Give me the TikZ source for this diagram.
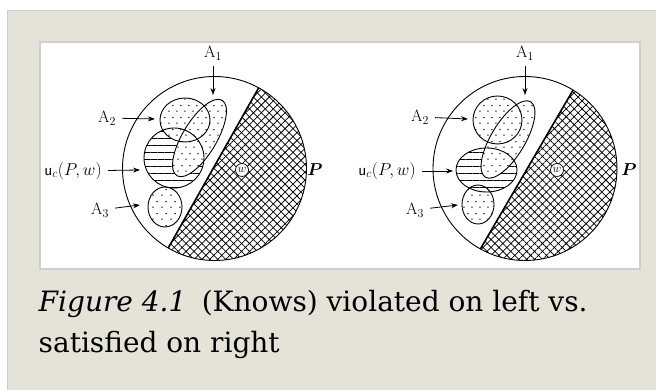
\documentclass[tikz,border=0pt]{standalone}
\usepackage{amsmath}
\usepackage{fontspec}
\newfontfamily\capfont{DejaVu Serif}
\usetikzlibrary{arrows.meta,patterns,patterns.meta}
\definecolor{paper}{RGB}{229,227,216}
\definecolor{rim}{RGB}{206,206,206}
\pgfdeclarepatternformonly{spots}{\pgfpointorigin}{\pgfpoint{8.4pt}{12pt}}{\pgfpoint{8.4pt}{12pt}}{%
  \pgfpathcircle{\pgfpoint{2.1pt}{3pt}}{.8pt}%
  \pgfpathcircle{\pgfpoint{6.3pt}{9pt}}{.8pt}%
  \pgfusepath{fill}}
\tikzset{
  spotty/.style={preaction={fill=white}, pattern=spots},
  striped/.style={preaction={fill=white}, pattern={Lines[angle=0,distance=7pt,line width=.7pt]}},
  crossed/.style={pattern={Hatch[angle=45,distance=5.6pt,line width=.75pt]}},
  rimline/.style={line width=.9pt},
  lab/.style={font=\fontsize{16.5}{19}\selectfont, inner sep=1pt},
  pointer/.style={-{Stealth[length=7pt,width=5pt]}, line width=.8pt, shorten <=5pt},
  wdot/.style={circle, draw, line width=.7pt, fill=white, minimum size=13pt, inner sep=0pt, font=\fontsize{12.5}{12.5}\selectfont},
  captext/.style={anchor=base west, inner sep=0pt, font=\capfont\fontsize{28}{41}\selectfont},
}

\begin{document}
\begin{tikzpicture}[x=1pt,y=1pt]
  \useasboundingbox (0,0) rectangle (656,390);
  % frame
  \fill[paper] (7.5,0) rectangle (656,379.5);
  \draw[rim, line width=1.5pt] (7.5,0) -- (7.5,379.5) -- (656,379.5);
  \draw[rim, line width=1.5pt, fill=white] (40,121) rectangle (640,348);

  % left picture: violated
  \begin{scope}[shift={(214.5,221.5)}]
    \fill[crossed] (61.3:92) arc[start angle=61.3, end angle=-120.2, radius=92] -- cycle;
    \fill[spotty] (-49.5,-38.5) ellipse (17 and 20);
    \fill[striped] (-40.5,10.5) circle (30);
    \fill[spotty] (-29.5,48.5) ellipse (25 and 22);
    \fill[spotty, rotate around={59:(-15,30.5)}] (-15,30.5) ellipse (44 and 17);
    \draw[rimline] (-49.5,-38.5) ellipse (17 and 20);
    \draw[rimline] (-40.5,10.5) circle (30);
    \draw[rimline] (-29.5,48.5) ellipse (25 and 22);
    \draw[rimline, rotate around={59:(-15,30.5)}] (-15,30.5) ellipse (44 and 17);
    \draw[rimline] (0,0) circle (92);
    \draw[line width=1.6pt] (61.3:92) -- (-120.2:92);

    \node[wdot] (wL) at (27.5,-1.5) {$w$};
    \node[lab] (pL) at (100.5,-1.5) {$\boldsymbol{P}$};
    \node[lab] (a1labL) at (-1.5,115.5) {$\mathrm{A}_1$};
    \node[lab] (a2labL) at (-107.5,50.5) {$\mathrm{A}_2$};
    \node[lab] (uclabL) at (-141.5,-2.5) {$\mathsf{u}_c(P,w)$};
    \node[lab] (a3labL) at (-114.5,-41.5) {$\mathrm{A}_3$};
    \coordinate (a1tipL) at (-1.5,73.5);
    \coordinate (a2tipL) at (-59.5,49.5);
    \coordinate (uctipL) at (-74.5,-1.5);
    \coordinate (a3tipL) at (-74.5,-36.5);
    \draw[pointer] (a1labL) -- (a1tipL);
    \draw[pointer] (a2labL) -- (a2tipL);
    \draw[pointer] (uclabL) -- (uctipL);
    \draw[pointer] (a3labL) -- (a3tipL);
  \end{scope}

  % right picture: satisfied
  \begin{scope}[shift={(525,221.5)}]
    \fill[crossed] (58.5:92) arc[start angle=58.5, end angle=-119, radius=92] -- cycle;
    \fill[spotty] (-47,-36) ellipse (16 and 19.5);
    \fill[striped] (-38.5,-1.5) ellipse (30.5 and 22);
    \fill[spotty] (-27.5,48.5) ellipse (24.5 and 24);
    \fill[spotty, rotate around={59:(-17,29)}] (-17,29) ellipse (44 and 17);
    \draw[rimline] (-47,-36) ellipse (16 and 19.5);
    \draw[rimline] (-38.5,-1.5) ellipse (30.5 and 22);
    \draw[rimline] (-27.5,48.5) ellipse (24.5 and 24);
    \draw[rimline, rotate around={59:(-17,29)}] (-17,29) ellipse (44 and 17);
    \draw[rimline] (0,0) circle (92);
    \draw[line width=1.6pt] (58.5:92) -- (-119:92);

    \node[wdot] (wR) at (32,-1.5) {$w$};
    \node[lab] (pR) at (104,-1.5) {$\boldsymbol{P}$};
    \node[lab] (a1labR) at (0,115.5) {$\mathrm{A}_1$};
    \node[lab] (a2labR) at (-105,51.5) {$\mathrm{A}_2$};
    \node[lab] (uclabR) at (-138,-2.5) {$\mathsf{u}_c(P,w)$};
    \node[lab] (a3labR) at (-110,-41.5) {$\mathrm{A}_3$};
    \coordinate (a1tipR) at (0,73.5);
    \coordinate (a2tipR) at (-57,49.5);
    \coordinate (uctipR) at (-72,-2.5);
    \coordinate (a3tipR) at (-67,-36.5);
    \draw[pointer] (a1labR) -- (a1tipR);
    \draw[pointer] (a2labR) -- (a2tipR);
    \draw[pointer] (uclabR) -- (uctipR);
    \draw[pointer] (a3labR) -- (a3tipR);
  \end{scope}

  % caption
  \node[captext] (capA) at (38.5,78) {\textit{Figure 4.1}\hspace{0.55em}(Knows) violated on left vs.};
  \node[captext] (capB) at (38.5,37) {satisfied on right};
\end{tikzpicture}
\end{document}
